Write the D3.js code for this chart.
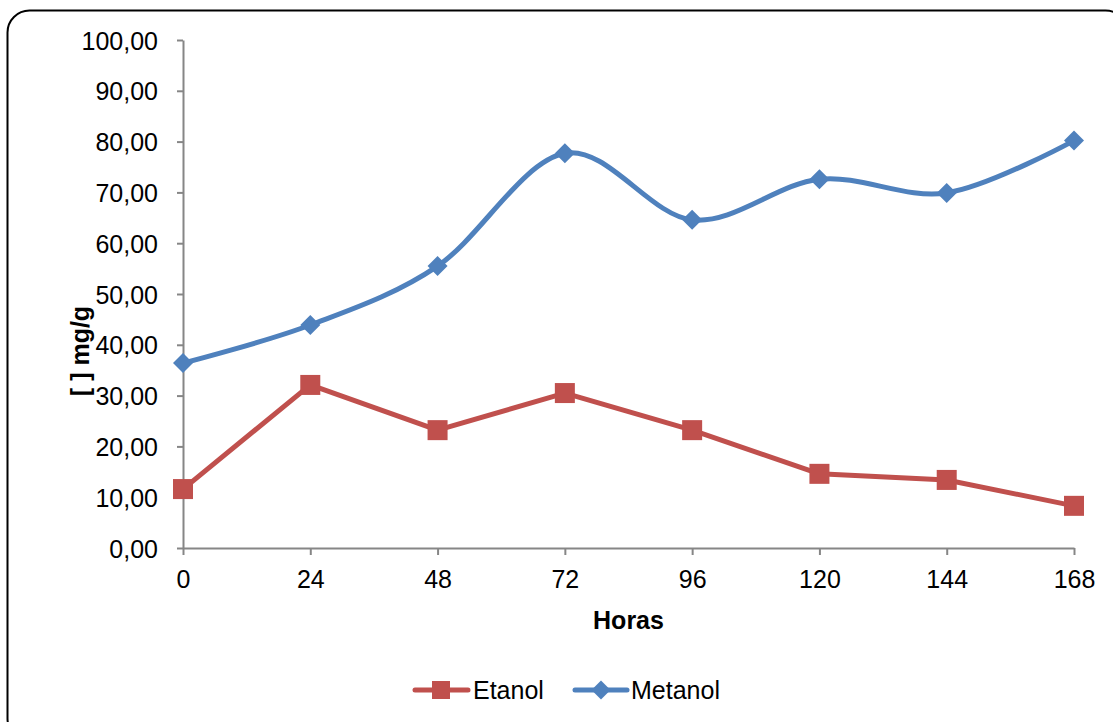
<!DOCTYPE html>
<html>
<head>
<meta charset="utf-8">
<script src="https://cdn.jsdelivr.net/npm/d3@7"></script>
<style>
  html, body { margin: 0; padding: 0; background: #fff; }
  svg { display: block; font-family: "Liberation Sans", Arial, sans-serif; }
</style>
</head>
<body>
<svg id="chart" width="1113" height="722"></svg>
<script>
// Sampling times (h)
const horas = [0, 24, 48, 72, 96, 120, 144, 168];
// Concentration, mg/g
const etanol  = [11.6, 32.1, 23.2, 30.5, 23.2, 14.6, 13.4, 8.3];
const metanol = [36.4, 43.9, 55.5, 77.7, 64.6, 72.6, 69.9, 80.2];
const yTicks = [0, 10, 20, 30, 40, 50, 60, 70, 80, 90, 100];

const svg = d3.select("#chart");
const W = 1113, H = 722;
const m = { left: 183, right: 1113 - 1074, top: 40, bottom: 722 - 548 };
const FS = "25px";

// Chart frame with rounded corners
svg.append("rect")
  .attr("x", 7.5).attr("y", 10.5)
  .attr("width", 1120).attr("height", 730)
  .attr("rx", 22).attr("ry", 22)
  .attr("fill", "#fff").attr("stroke", "#000").attr("stroke-width", 2);

const x = d3.scaleLinear().domain([0, 168]).range([m.left, W - m.right]);
const y = d3.scaleLinear().domain([0, 100]).range([H - m.bottom, m.top]);

const fmt = d => d3.format(".2f")(d).replace(".", ",");
const axisColor = "#868686";

const yAxis = svg.append("g")
  .attr("transform", `translate(${m.left},0)`)
  .call(d3.axisLeft(y).tickValues(yTicks).tickFormat(fmt).tickSize(6).tickPadding(19).tickSizeOuter(0));
const xAxis = svg.append("g")
  .attr("transform", `translate(0,${H - m.bottom})`)
  .call(d3.axisBottom(x).tickValues(horas).tickSize(7).tickPadding(15).tickSizeOuter(0));

[yAxis, xAxis].forEach(g => {
  g.selectAll("path.domain").attr("stroke", axisColor).attr("stroke-width", 2);
  g.selectAll(".tick line").attr("stroke", axisColor).attr("stroke-width", 2);
  g.selectAll(".tick text")
    .attr("fill", "#000")
    .style("font-size", FS)
    .style("font-family", "'Liberation Sans', Arial, sans-serif");
});
yAxis.selectAll(".tick text").attr("dy", "0.36em");
xAxis.selectAll(".tick text").attr("dy", "0.72em");

// Axis titles
svg.append("text")
  .attr("x", (m.left + W - m.right) / 2).attr("y", 629)
  .attr("text-anchor", "middle")
  .style("font-size", FS).style("font-weight", "bold")
  .text("Horas");

svg.append("text")
  .attr("transform", "translate(89,351) rotate(-90)")
  .attr("text-anchor", "middle")
  .style("font-size", FS).style("font-weight", "bold")
  .text("[ ] mg/g");

const red = "#C0504D", blue = "#4F81BD";

// Metanol: smoothed line with diamond markers
const smooth = d3.line().x((d, i) => x(horas[i])).y(d => y(d)).curve(d3.curveCardinal.tension(0));
svg.append("path").datum(metanol)
  .attr("d", smooth)
  .attr("fill", "none").attr("stroke", blue).attr("stroke-width", 5)
  .attr("stroke-linecap", "round");

// Etanol: straight segments with square markers
const straight = d3.line().x((d, i) => x(horas[i])).y(d => y(d));
svg.append("path").datum(etanol)
  .attr("d", straight)
  .attr("fill", "none").attr("stroke", red).attr("stroke-width", 5)
  .attr("stroke-linejoin", "round");

const diamond = d3.symbol().type(d3.symbolSquare).size(200);
svg.append("g").selectAll("path").data(metanol).join("path")
  .attr("d", diamond)
  .attr("transform", (d, i) => `translate(${x(horas[i])},${y(d)}) rotate(45)`)
  .attr("fill", blue);

svg.append("g").selectAll("rect").data(etanol).join("rect")
  .attr("x", (d, i) => x(horas[i]) - 10).attr("y", d => y(d) - 10)
  .attr("width", 20).attr("height", 20)
  .attr("fill", red);

// Legend
const legend = svg.append("g").attr("transform", "translate(0,690)");
legend.append("line").attr("x1", 415).attr("x2", 468).attr("y1", 0).attr("y2", 0)
  .attr("stroke", red).attr("stroke-width", 5).attr("stroke-linecap", "round");
legend.append("rect").attr("x", 432).attr("y", -9).attr("width", 18).attr("height", 18).attr("fill", red);
legend.append("text").attr("x", 473).attr("y", 0).attr("dy", "0.36em")
  .style("font-size", FS).text("Etanol");

legend.append("line").attr("x1", 575).attr("x2", 627).attr("y1", 0).attr("y2", 0)
  .attr("stroke", blue).attr("stroke-width", 5).attr("stroke-linecap", "round");
legend.append("path").attr("d", d3.symbol().type(d3.symbolSquare).size(180))
  .attr("transform", "translate(601,0) rotate(45)").attr("fill", blue);
legend.append("text").attr("x", 631).attr("y", 0).attr("dy", "0.36em")
  .style("font-size", FS).text("Metanol");
</script>
</body>
</html>
